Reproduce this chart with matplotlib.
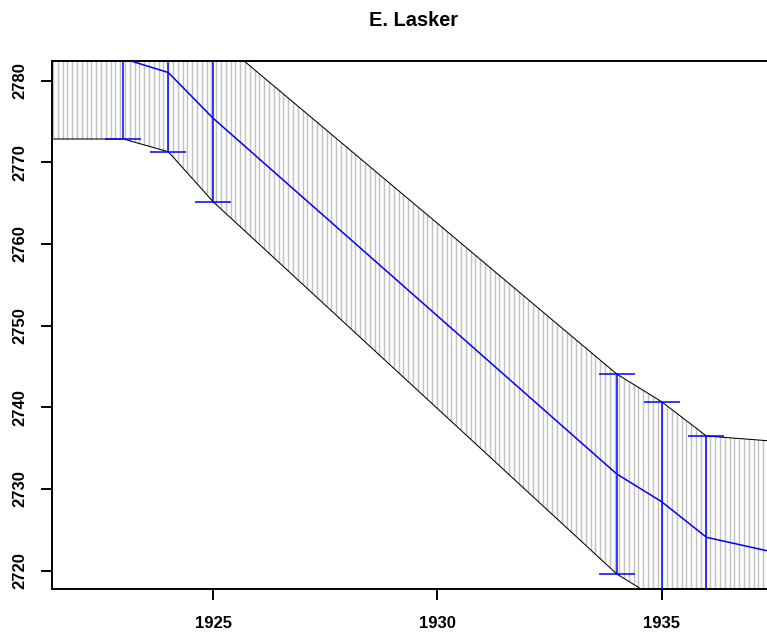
import numpy as np
import matplotlib
matplotlib.use("Agg")
import matplotlib.pyplot as plt

# ---- data ----
years  = [1921, 1923, 1924, 1925, 1934, 1935, 1936, 1938]
rating = [2782.7, 2782.7, 2781.0, 2775.4, 2731.84, 2728.45, 2724.09, 2721.65]
upper  = [2792.55, 2792.55, 2790.7, 2785.6, 2744.08, 2740.69, 2736.49, 2735.65]
lower  = [2772.86, 2772.86, 2771.3, 2765.18, 2719.6, 2716.2, 2711.7, 2707.65]
err_years = [1923, 1924, 1925, 1934, 1935, 1936]

title = "E. Lasker"
yticks = [2720, 2730, 2740, 2750, 2760, 2770, 2780]
xticks = [1925, 1930, 1935]

XLIM = (1921.40, 1937.55)
YLIM = (2717.76, 2782.45)

plt.rcParams['font.family'] = ['Liberation Sans', 'DejaVu Sans']

fig = plt.figure(figsize=(7.67, 6.36), dpi=100)
L, R, T, B = 51.7, 776.0, 60.7, 589.0
W, H = 767.0, 636.0
ax = fig.add_axes([L / W, 1 - B / H, (R - L) / W, (B - T) / H])

# hatching of the band with vertical gray lines
hx = np.arange(XLIM[0] + 0.03, XLIM[1], 0.107)
hlo = np.interp(hx, years, lower)
hhi = np.interp(hx, years, upper)
ax.vlines(hx, hlo, hhi, colors='#c2c2c2', lw=1.05, zorder=1)

# band edges
ax.plot(years, upper, color='black', lw=0.75, zorder=2)
ax.plot(years, lower, color='black', lw=0.75, zorder=2)

# rating line
ax.plot(years, rating, color='#0000ff', lw=1.1, zorder=3)

# error bars
idx = [years.index(y) for y in err_years]
ec = [rating[i] for i in idx]
elo = [rating[i] - lower[i] for i in idx]
ehi = [upper[i] - rating[i] for i in idx]
ax.errorbar(err_years, ec, yerr=[elo, ehi], fmt='none', ecolor='#0000ff',
            elinewidth=1.1, capsize=13.3, capthick=1.1, zorder=4)

ax.set_xlim(*XLIM)
ax.set_ylim(*YLIM)
ax.set_xticks(xticks)
ax.set_xticklabels([str(v) for v in xticks])
ax.set_yticks(yticks)
ax.set_yticklabels([str(v) for v in yticks])

for s in ['left', 'bottom', 'top', 'right']:
    ax.spines[s].set_linewidth(1.4)
    ax.spines[s].set_color('black')

ax.tick_params(axis='both', direction='out', length=7.9, width=1.4,
               labelsize=12)
ax.tick_params(axis='x', pad=11.5)
ax.tick_params(axis='y', pad=9.5)
for lab in ax.get_xticklabels() + ax.get_yticklabels():
    lab.set_fontweight('bold')
for lab in ax.get_yticklabels():
    lab.set_rotation(90)
    lab.set_va('center')

ax.set_title(title, fontsize=14.4, fontweight='bold', pad=25)

fig.savefig('out.png', dpi=100)
